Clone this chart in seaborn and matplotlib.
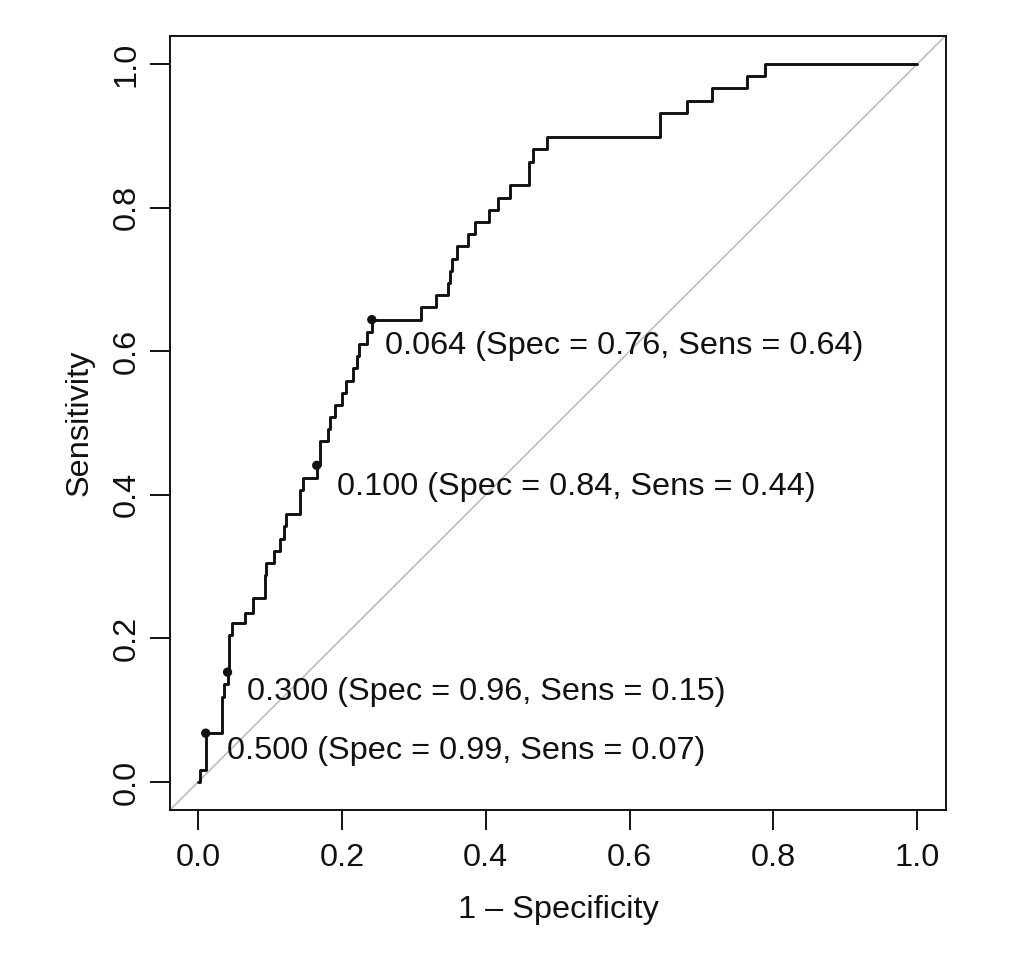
import matplotlib
matplotlib.use("Agg")
import matplotlib.pyplot as plt
import seaborn as sns
import pandas as pd

# ---- data ----
fpr = [0, 0.003, 0.0107, 0.033, 0.036, 0.041, 0.0436, 0.047, 0.065, 0.077,
       0.093, 0.095, 0.105, 0.114, 0.119, 0.122, 0.142, 0.146, 0.165, 0.170,
       0.180, 0.183, 0.190, 0.200, 0.206, 0.215, 0.221, 0.224, 0.235, 0.2416,
       0.310, 0.331, 0.347, 0.351, 0.353, 0.360, 0.375, 0.385, 0.405, 0.417,
       0.434, 0.460, 0.466, 0.485, 0.643, 0.680, 0.715, 0.763, 0.788, 1.0]
tpr = [0, 0.017, 0.068, 0.119, 0.136, 0.153, 0.205, 0.221, 0.236, 0.256,
       0.288, 0.305, 0.322, 0.339, 0.356, 0.373, 0.407, 0.424, 0.441, 0.475,
       0.492, 0.508, 0.525, 0.542, 0.559, 0.576, 0.593, 0.610, 0.627, 0.644,
       0.661, 0.678, 0.695, 0.712, 0.729, 0.746, 0.763, 0.780, 0.797, 0.814,
       0.831, 0.864, 0.881, 0.898, 0.932, 0.949, 0.966, 0.983, 1.0, 1.0]

thresholds = ["0.500", "0.300", "0.100", "0.064"]
thr_spec = [0.99, 0.96, 0.84, 0.76]
thr_sens = [0.07, 0.15, 0.44, 0.64]
thr_fpr = [0.0107, 0.041, 0.165, 0.2416]
thr_tpr = [0.068, 0.153, 0.441, 0.644]

ticks = [0.0, 0.2, 0.4, 0.6, 0.8, 1.0]
tick_labels = ["0.0", "0.2", "0.4", "0.6", "0.8", "1.0"]
x_label = "1 \u2013 Specificity"
y_label = "Sensitivity"

# ---- style ----
sns.set_style("ticks")
plt.rcParams["font.family"] = ["Liberation Sans", "DejaVu Sans"]
plt.rcParams["font.size"] = 23

FS = 23.4
INK = "#111111"

fig = plt.figure(figsize=(10.2, 9.61), dpi=100)
ax = fig.add_axes([170 / 1020, 1 - 810 / 961, (946 - 170) / 1020, (810 - 36) / 961])

# diagonal reference line
ax.axline((0, 0), slope=1, color="#bebebe", lw=1.2, zorder=1)

curve = pd.DataFrame({"fpr": fpr, "tpr": tpr})
sns.lineplot(data=curve, x="fpr", y="tpr", estimator=None, sort=False,
             drawstyle="steps-post", color=INK, lw=2.1, ax=ax, zorder=3)

pts = pd.DataFrame({"fpr": thr_fpr, "tpr": thr_tpr})
sns.scatterplot(data=pts, x="fpr", y="tpr", color=INK, s=45,
                edgecolor="none", ax=ax, zorder=4)

# label offsets in pixels (dx, dy) relative to each threshold point
offsets = [(21, -26), (19, -28), (20, -30), (13, -34)]
for t, sp, se, x, y, (dx, dy) in zip(thresholds, thr_spec, thr_sens, thr_fpr, thr_tpr, offsets):
    ax.annotate(f"{t} (Spec = {sp:.2f}, Sens = {se:.2f})", xy=(x, y),
                xytext=(dx, dy), textcoords="offset pixels",
                ha="left", va="baseline", fontsize=FS, color=INK)

ax.set_xlim(-0.039, 1.040)
ax.set_ylim(-0.039, 1.039)
ax.set_xticks(ticks)
ax.set_xticklabels(tick_labels)
ax.set_yticks(ticks)
ax.set_yticklabels(tick_labels, rotation=90, va="center")
ax.set_xlabel(x_label, fontsize=FS, labelpad=16, color=INK)
ax.set_ylabel(y_label, fontsize=FS, labelpad=12.5, color=INK)

for sp in ax.spines.values():
    sp.set_visible(True)
    sp.set_linewidth(1.4)
    sp.set_color(INK)
ax.tick_params(axis="both", length=14.4, width=1.4, color=INK,
               labelsize=FS, labelcolor=INK)
ax.tick_params(axis="x", pad=9.5)
ax.tick_params(axis="y", pad=6)

fig.savefig("out.png", dpi=100, facecolor="white")
